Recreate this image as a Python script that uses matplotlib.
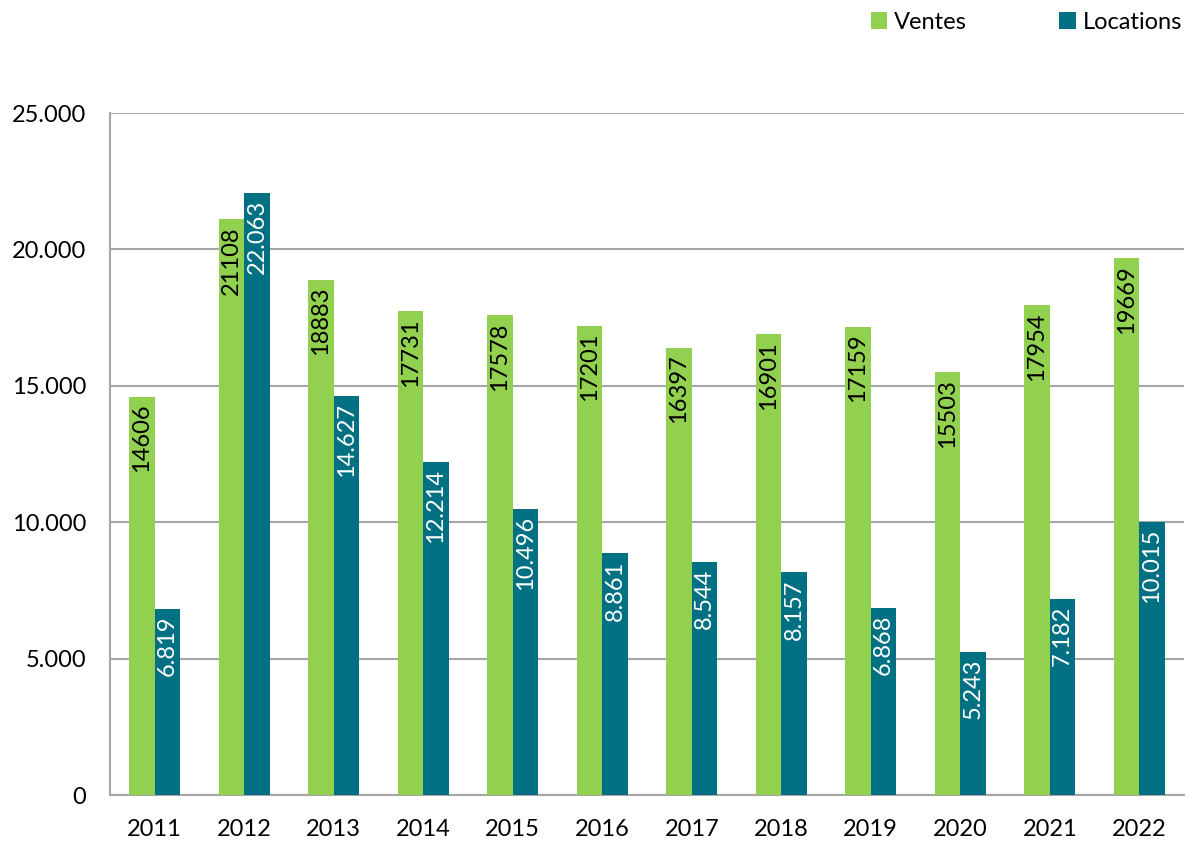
import numpy as np
import matplotlib.pyplot as plt

# données
years = ["2011", "2012", "2013", "2014", "2015", "2016",
         "2017", "2018", "2019", "2020", "2021", "2022"]
ventes = [14606, 21108, 18883, 17731, 17578, 17201,
          16397, 16901, 17159, 15503, 17954, 19669]
locations = [6819, 22063, 14627, 12214, 10496, 8861,
             8544, 8157, 6868, 5243, 7182, 10015]
yticks = [0, 5000, 10000, 15000, 20000, 25000]

GREEN = "#92D050"
TEAL = "#007082"
GRID = "#A6A6A6"

plt.rcParams["font.family"] = ["Lato", "DejaVu Sans"]

fig = plt.figure(figsize=(11.94, 8.41), dpi=100)
ax = fig.add_axes([110 / 1194, 46 / 841, 1074 / 1194, 682 / 841])

x = np.arange(len(years))
w = 0.285
b1 = ax.bar(x - w / 2, ventes, w, color=GREEN, label="Ventes", zorder=3)
b2 = ax.bar(x + w / 2, locations, w, color=TEAL, label="Locations", zorder=3)

def fmt_dot(v):
    return f"{v:,}".replace(",", ".")

for xi, v in zip(x, ventes):
    ax.annotate(str(v), (xi - w / 2, v), xytext=(0, -5), textcoords="offset points",
                rotation=90, ha="center", va="top", fontsize=17, color="black", zorder=4)
for xi, v in zip(x, locations):
    ax.annotate(fmt_dot(v), (xi + w / 2, v), xytext=(0, -5), textcoords="offset points",
                rotation=90, ha="center", va="top", fontsize=17, color="white", zorder=4)

ax.set_xlim(-0.5, len(years) - 0.5)
ax.set_ylim(0, 25000)
ax.set_yticks(yticks)
ax.set_yticklabels([fmt_dot(t) for t in yticks])
ax.set_xticks(x)
ax.set_xticklabels(years)
ax.tick_params(axis="both", length=0, labelsize=17)
ax.tick_params(axis="x", pad=17)
ax.tick_params(axis="y", pad=17)

ax.yaxis.grid(True, color=GRID, linewidth=1.5, zorder=0)
for s in ["top", "right"]:
    ax.spines[s].set_visible(False)
for s in ["left", "bottom"]:
    ax.spines[s].set_color(GRID)
    ax.spines[s].set_linewidth(1.5)

fig.legend(handles=[b1, b2], loc="upper right", bbox_to_anchor=(1.0, 1.0),
           ncol=2, frameon=False, fontsize=17, handlelength=0.7, handleheight=0.7,
           handletextpad=0.3, columnspacing=3.9, borderaxespad=0.1)

fig.savefig("out.png", dpi=100)
